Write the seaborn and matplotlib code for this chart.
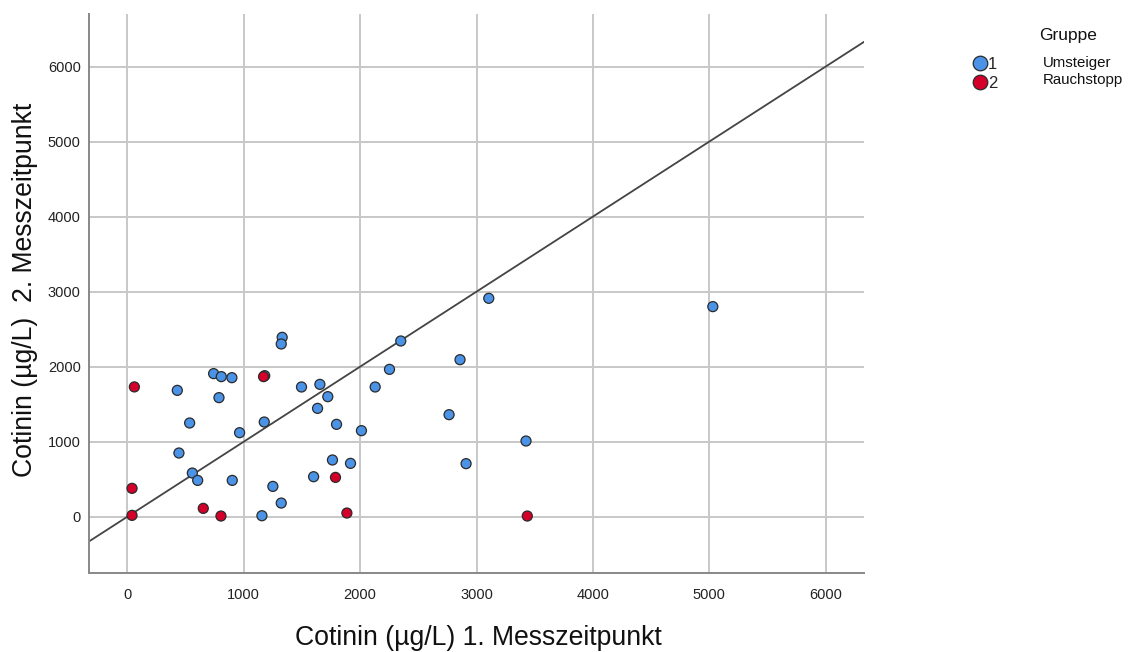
import matplotlib
matplotlib.use("Agg")
import matplotlib.pyplot as plt
import seaborn as sns
import pandas as pd
from matplotlib.lines import Line2D

# Cotinin (µg/L) at the first and second measurement, group 1 = Umsteiger
umsteiger_t1 = [429, 741, 807, 898, 787, 1180, 1330, 1322, 535, 964, 1176, 1496,
                1654, 1722, 1634, 1797, 2011, 2129, 2252, 2349, 443, 558, 604, 901,
                1156, 1250, 1322, 1600, 1762, 1917, 3105, 2858, 2764, 3425, 2910, 5030]
umsteiger_t2 = [1684, 1907, 1867, 1853, 1587, 1880, 2391, 2302, 1249, 1120, 1262, 1729,
                1764, 1600, 1444, 1231, 1147, 1729, 1964, 2342, 849, 582, 484, 484,
                13, 404, 182, 533, 756, 711, 2911, 2093, 1360, 1009, 707, 2800]

# group 2 = Rauchstopp
rauchstopp_t1 = [60, 1170, 40, 40, 652, 804, 1788, 1886, 3436]
rauchstopp_t2 = [1730, 1867, 378, 18, 111, 9, 524, 49, 9]

group_codes = ["1", "2"]
group_names = ["Umsteiger", "Rauchstopp"]
group_colors = ["#4A93E6", "#D4002A"]

x_ticks = [0, 1000, 2000, 3000, 4000, 5000, 6000]
y_ticks = [0, 1000, 2000, 3000, 4000, 5000, 6000]

df = pd.DataFrame({
    "t1": umsteiger_t1 + rauchstopp_t1,
    "t2": umsteiger_t2 + rauchstopp_t2,
    "Gruppe": [group_codes[0]] * len(umsteiger_t1) + [group_codes[1]] * len(rauchstopp_t1),
})

sns.set_theme(style="white")
plt.rcParams["font.family"] = ["Liberation Sans", "DejaVu Sans"]

fig = plt.figure(figsize=(11.45, 6.52), dpi=100)
ax = fig.add_axes([0.0777, 0.1212, 0.677, 0.8573])

xlim = (-330, 6330)
ylim = (-750, 6700)

# identity reference line y = x
ax.plot(xlim, xlim, color="#444444", lw=1.3, zorder=2)

sns.scatterplot(data=df, x="t1", y="t2", hue="Gruppe", hue_order=group_codes,
                palette=group_colors, s=52, edgecolor="#2b2b2b", linewidth=0.9,
                legend=False, ax=ax, zorder=3)

ax.set_xlim(*xlim)
ax.set_ylim(*ylim)
ax.set_xticks(x_ticks)
ax.set_yticks(y_ticks)
ax.set_xticklabels([str(v) for v in x_ticks])
ax.set_yticklabels([str(v) for v in y_ticks])
ax.tick_params(axis="both", labelsize=10.5, colors="#222222", length=0)
ax.tick_params(axis="x", pad=11)
ax.tick_params(axis="y", pad=6)

ax.grid(True, color="#c8c8c8", lw=1.4)
ax.set_axisbelow(True)
for side in ("top", "right"):
    ax.spines[side].set_visible(False)
for side in ("left", "bottom"):
    ax.spines[side].set_color("#888888")
    ax.spines[side].set_linewidth(1.4)

ax.set_xlabel("")
ax.set_ylabel("")
fig.text(0.418, 0.0215, "Cotinin (µg/L) 1. Messzeitpunkt", fontsize=19.2,
         color="#111111", ha="center", va="center")
fig.text(0.022, 0.555, "Cotinin (µg/L)  2. Messzeitpunkt", fontsize=19.2,
         color="#111111", ha="center", va="center", rotation=90)

# legend block on the right
handles = [Line2D([0], [0], marker="o", ls="", markersize=10.5,
                  markerfacecolor=c, markeredgecolor="#2b2b2b", markeredgewidth=0.9)
           for c in group_colors]
fig.legend(handles, group_codes, loc="upper left", bbox_to_anchor=(0.8395, 0.925),
           frameon=False, fontsize=12, handletextpad=-0.1, labelspacing=0.2,
           borderpad=0, handlelength=1.2)
fig.text(0.9075, 0.9463, "Gruppe", fontsize=12.5, color="#111111", va="center")
fig.text(0.911, 0.904, group_names[0], fontsize=10.8, color="#111111", va="center")
fig.text(0.911, 0.877, group_names[1], fontsize=10.8, color="#111111", va="center")

fig.savefig("out.png", dpi=100)
